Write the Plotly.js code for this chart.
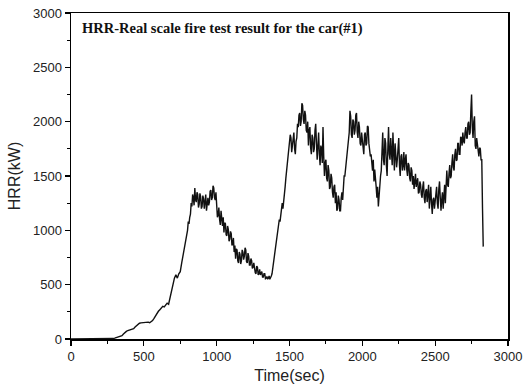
<!DOCTYPE html>
<html>
<head>
<meta charset="utf-8">
<script src="https://cdn.plot.ly/plotly-3.0.1.min.js"></script>
<style>html,body{margin:0;padding:0;background:#fff;}#chart{width:525px;height:390px;}</style>
</head>
<body>
<div id="chart"></div>
<script>
// Sampling of the recorded test (seconds)
const earlyStart = 0;     // first segment: one reading every 10 s
const earlyStep = 10;
const lateStart = 800;    // second segment: one reading every 5 s
const lateStep = 5;

// Heat release rate readings (kW)
const hrrEarly = [
  0,0,0,0,0,0,0,0,0,0,
  0,0,0,0,0,0,0,0,0,0,
  0,0,0,0,0,0,0,0,2,4,
  8,12,15,18,22,30,45,60,70,78,
  82,85,88,95,110,125,140,145,148,150,
  152,148,150,155,150,158,170,190,215,240,
  255,270,285,300,295,315,330,320,380,460,
  530,560,590,560,600,620,700,780,820,900
];

const hrrLate = [
  1000,1080,1060,1120,1150,1250,1220,1330,1300,1230,1390,1280,1260,1350,1330,1210,1240,1340,1310,1200,
  1220,1320,1290,1200,1250,1330,1180,1270,1300,1230,1260,1360,1370,1280,1300,1410,1390,1300,1280,1350,
  1200,1120,1140,1210,1100,1050,1180,1080,1040,1120,980,1070,1060,960,950,1040,1010,900,920,990,
  970,860,880,930,800,860,740,830,820,720,700,800,780,690,720,820,800,730,760,840,
  820,710,700,790,760,680,680,740,720,650,660,700,640,610,600,670,660,590,600,640,
  590,610,620,570,570,600,600,555,560,575,550,560,580,550,560,580,600,650,700,760,
  820,860,900,950,1000,1060,1100,1080,1160,1220,1250,1200,1300,1380,1400,1480,1550,1600,1650,1750,
  1800,1880,1850,1720,1780,1880,1900,1750,1700,1820,1850,1980,1950,2060,2080,1960,2000,2170,2150,2020,
  1980,2100,2060,1920,1900,2000,1780,1920,1950,1760,1700,1880,1850,1720,1750,1920,1980,1800,1650,1780,
  1900,1700,1600,1780,1750,1620,1950,1680,1500,1620,1650,1480,1450,1600,1550,1380,1400,1520,1480,1350,
  1300,1400,1420,1250,1350,1180,1200,1320,1280,1180,1180,1300,1350,1280,1420,1500,1500,1580,1600,1680,
  1750,1880,1900,2100,2050,1880,1850,2020,2000,1880,1920,2060,2080,1900,1850,2000,1950,1800,1780,1900,
  1850,1760,1700,1880,1900,1780,1800,1960,1950,1800,1750,1680,1700,1600,1550,1650,1450,1560,1500,1400,
  1300,1400,1220,1350,1400,1500,1550,1700,1900,1650,1600,1850,1800,1600,1500,1750,1950,1700,1650,1850,
  1750,1600,1900,1700,1550,1800,1700,1580,1650,1780,1850,1600,1500,1680,1700,1550,1600,1720,1550,1650,
  1700,1560,1500,1620,1600,1480,1450,1580,1550,1420,1500,1380,1450,1520,1400,1460,1480,1340,1350,1450,
  1420,1330,1300,1400,1450,1300,1250,1360,1380,1260,1320,1420,1200,1300,1400,1250,1150,1280,1300,1200,
  1250,1350,1400,1250,1200,1380,1450,1300,1180,1280,1350,1200,1300,1420,1250,1400,1550,1420,1400,1520,
  1600,1480,1500,1620,1700,1580,1550,1700,1750,1640,1650,1800,1800,1700,1700,1860,1850,1780,1900,1820,
  1800,1900,1950,1850,1850,1980,2000,1880,1900,2100,2250,1950,1850,2000,2050,1780,1750,1850,1800,1700,
  1680,1760,1750,1650,1650,1200,850
];

const time = hrrEarly.map((_, i) => earlyStart + i * earlyStep)
  .concat(hrrLate.map((_, i) => lateStart + i * lateStep));
const hrr = hrrEarly.concat(hrrLate);

const chartTitle = 'HRR-Real scale fire test result for the car(#1)';
const xTitle = 'Time(sec)';
const yTitle = 'HRR(kW)';
const tickVals = [0, 500, 1000, 1500, 2000, 2500, 3000];

const trace = {
  x: time,
  y: hrr,
  type: 'scatter',
  mode: 'lines',
  line: {color: '#111', width: 1.4},
  hoverinfo: 'skip'
};

const axisCommon = {
  showline: true,
  linecolor: '#000',
  linewidth: 1.5,
  mirror: true,
  showgrid: false,
  zeroline: false,
  ticks: 'outside',
  ticklen: 5,
  tickwidth: 1.2,
  tickcolor: '#000',
  tickvals: tickVals,
  tickfont: {family: 'Liberation Sans, Arial, sans-serif', size: 13, color: '#222'},
  minor: {ticks: 'outside', dtick: 250, ticklen: 3, tickwidth: 1, tickcolor: '#000'}
};

const layout = {
  width: 525,
  height: 390,
  margin: {l: 71, r: 17, t: 13, b: 51},
  paper_bgcolor: '#fff',
  plot_bgcolor: '#fff',
  showlegend: false,
  xaxis: Object.assign({}, axisCommon, {
    range: [0, 3000],
    title: {text: xTitle, font: {family: 'Liberation Sans, Arial, sans-serif', size: 16, color: '#222'}, standoff: 6}
  }),
  yaxis: Object.assign({}, axisCommon, {
    range: [0, 3000],
    title: {text: yTitle, font: {family: 'Liberation Sans, Arial, sans-serif', size: 16, color: '#222'}, standoff: 8}
  }),
  annotations: [{
    text: '<b>' + chartTitle + '</b>',
    xref: 'paper', yref: 'paper',
    x: 0.02, y: 0.985,
    xanchor: 'left', yanchor: 'top',
    showarrow: false,
    font: {family: 'Liberation Serif, Times New Roman, serif', size: 14.5, color: '#111'}
  }]
};

Plotly.newPlot('chart', [trace], layout, {displayModeBar: false, staticPlot: true});
</script>
</body>
</html>
